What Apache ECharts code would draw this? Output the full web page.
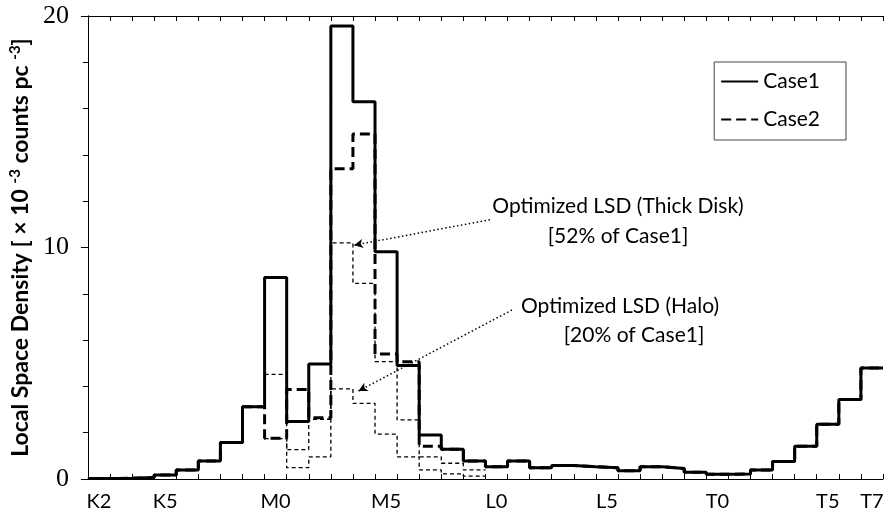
<!DOCTYPE html>
<html>
<head>
<meta charset="utf-8">
<script src="https://cdn.jsdelivr.net/npm/echarts@6/dist/echarts.min.js"></script>
<style>html,body{margin:0;padding:0;background:#fff}#c{width:887px;height:516px}</style>
</head>
<body>
<div id="c"></div>
<script>
// spectral-type bins (K2 ... T7)
const categories = ['K2','K3','K4','K5','K6','K7','K8','K9',
  'M0','M1','M2','M3','M4','M5','M6','M7','M8','M9',
  'L0','L1','L2','L3','L4','L5','L6','L7','L8','L9',
  'T0','T1','T2','T3','T4','T5','T6','T7'];
const tickLabels = ['K2','K5','M0','M5','L0','L5','T0','T5','T7'];
const yTicks = [0, 10, 20];

// Case1 local space density per bin (x 10^-3 counts pc^-3)
const case1 = [0.02,0.03,0.06,0.17,0.39,0.78,1.58,3.12,
  8.70,2.48,4.97,19.57,16.30,9.82,4.90,1.90,1.28,0.78,
  0.53,0.78,0.49,0.58,0.53,0.49,0.36,0.53,0.45,0.29,
  0.20,0.22,0.39,0.76,1.41,2.36,3.43,4.79];
// Case2
const case2 = [0.02,0.03,0.06,0.17,0.39,0.78,1.58,3.12,
  1.76,3.87,2.65,13.40,14.90,5.40,5.07,1.42,1.28,0.78,
  0.53,0.78,0.49,0.58,0.53,0.49,0.36,0.53,0.45,0.29,
  0.20,0.22,0.39,0.76,1.41,2.36,3.43,4.79];
// Optimized LSD (Thick Disk), bins M0..M9
const thickStart = 8;
const thickDisk = [4.52,1.27,2.58,10.20,8.45,5.07,2.55,0.96,0.68,0.39];
// Optimized LSD (Halo), bins M0..M9
const haloStart = 8;
const halo = [1.74,0.49,0.96,3.89,3.27,1.94,0.96,0.39,0.22,0.12];

function steps(vals, start) {
  const d = vals.map((v, i) => [start + i, v]);
  d.push([start + vals.length, vals[vals.length - 1]]);
  return d;
}

const chart = echarts.init(document.getElementById('c'), null, {renderer: 'canvas'});
const SANS = 'Lato, "Open Sans", sans-serif';
const nBins = categories.length;

chart.setOption({
  animation: false,
  backgroundColor: '#fff',
  grid: {left: 81, right: 4, top: 16, bottom: 37, containLabel: false},
  legend: {
    data: ['Case1', 'Case2'],
    orient: 'vertical',
    right: 41, top: 62,
    padding: [9, 26, 10, 6],
    itemGap: 17,
    itemWidth: 37, itemHeight: 22,
    borderColor: '#444', borderWidth: 1,
    itemStyle: {opacity: 0, borderWidth: 0},
    textStyle: {fontFamily: SANS, fontSize: 21, color: '#000'}
  },
  xAxis: [
    {type: 'value', min: 0, max: nBins, interval: 1, position: 'bottom',
     axisLine: {show: true, lineStyle: {color: '#000', width: 1}},
     axisTick: {show: true, inside: true, length: 5, lineStyle: {color: '#000'}},
     axisLabel: {show: false}, splitLine: {show: false}},
    {type: 'category', data: categories, position: 'bottom', boundaryGap: true,
     axisLine: {show: false}, axisTick: {show: false}, splitLine: {show: false},
     axisLabel: {interval: 0, margin: 13, fontFamily: SANS, fontSize: 20, color: '#000',
       formatter: v => tickLabels.includes(v) ? v : ''}},
    {type: 'value', min: 0, max: nBins, interval: 1, position: 'top',
     axisLine: {show: true, lineStyle: {color: '#000', width: 1}},
     axisTick: {show: true, inside: true, length: 5, lineStyle: {color: '#000'}},
     axisLabel: {show: false}, splitLine: {show: false}}
  ],
  yAxis: [
    {type: 'value', min: 0, max: 20, interval: 10, position: 'left',
     axisLine: {show: true, lineStyle: {color: '#000', width: 1}},
     axisTick: {show: true, inside: false, length: 7, lineStyle: {color: '#000'}},
     splitLine: {show: false},
     axisLabel: {margin: 19, fontFamily: '"Liberation Serif", serif', fontSize: 26, color: '#000',
       formatter: v => yTicks.includes(v) ? String(v) : ''},
     name: 'Local Space Density [ \u00d7 10 {sup|-3} counts pc {sup|-3}]',
     nameLocation: 'middle', nameGap: 44,
     nameTextStyle: {fontFamily: SANS, fontSize: 23, fontWeight: 'bold', color: '#000',
       rich: {sup: {fontFamily: SANS, fontSize: 15, fontWeight: 'bold', verticalAlign: 'top', padding: [0,0,10,0], color: '#000'}}}},
    {type: 'value', min: 0, max: 20, interval: 2, position: 'right',
     axisLine: {show: true, lineStyle: {color: '#000', width: 1}},
     axisTick: {show: true, inside: true, length: 5, lineStyle: {color: '#000'}},
     axisLabel: {show: false}, splitLine: {show: false}}
  ],
  series: [
    {name: 'Thick Disk', type: 'line', step: 'end', xAxisIndex: 0, yAxisIndex: 0,
     symbol: 'none', data: steps(thickDisk, thickStart),
     lineStyle: {color: '#000', width: 1.3, type: [4, 3]}, z: 2,
     markLine: {silent: true, symbol: ['none', 'arrow'], symbolSize: [7, 9],
       label: {show: false},
       lineStyle: {color: '#000', width: 1.5, type: [1.5, 2.5]},
       data: [
         [{coord: [18.2, 11.2]}, {coord: [12.05, 10.1]}],
         [{coord: [19.2, 7.3]}, {coord: [12.25, 3.8]}]
       ]}},
    {name: 'Halo', type: 'line', step: 'end', xAxisIndex: 0, yAxisIndex: 0,
     symbol: 'none', data: steps(halo, haloStart),
     lineStyle: {color: '#000', width: 1.3, type: [4, 3]}, z: 2},
    {name: 'Case2', type: 'line', step: 'end', xAxisIndex: 0, yAxisIndex: 0,
     symbol: 'none', data: steps(case2, 0), itemStyle: {color: '#000'},
     lineStyle: {color: '#000', width: 3, type: [10, 5]}, z: 3},
    {name: 'Case1', type: 'line', step: 'end', xAxisIndex: 0, yAxisIndex: 0,
     symbol: 'none', data: steps(case1, 0), itemStyle: {color: '#000'},
     lineStyle: {color: '#000', width: 3, type: 'solid'}, z: 4}
  ],
  graphic: [
    {type: 'text', x: 618, y: 206, style: {text: 'Optimized LSD (Thick Disk)', font: '21px ' + SANS, fill: '#000', textAlign: 'center', textVerticalAlign: 'middle'}},
    {type: 'text', x: 618, y: 236, style: {text: '[52% of Case1]', font: '21px ' + SANS, fill: '#000', textAlign: 'center', textVerticalAlign: 'middle'}},
    {type: 'text', x: 620, y: 306, style: {text: 'Optimized LSD (Halo)', font: '21px ' + SANS, fill: '#000', textAlign: 'center', textVerticalAlign: 'middle'}},
    {type: 'text', x: 634, y: 335, style: {text: '[20% of Case1]', font: '21px ' + SANS, fill: '#000', textAlign: 'center', textVerticalAlign: 'middle'}}
  ]
});
</script>
</body>
</html>
